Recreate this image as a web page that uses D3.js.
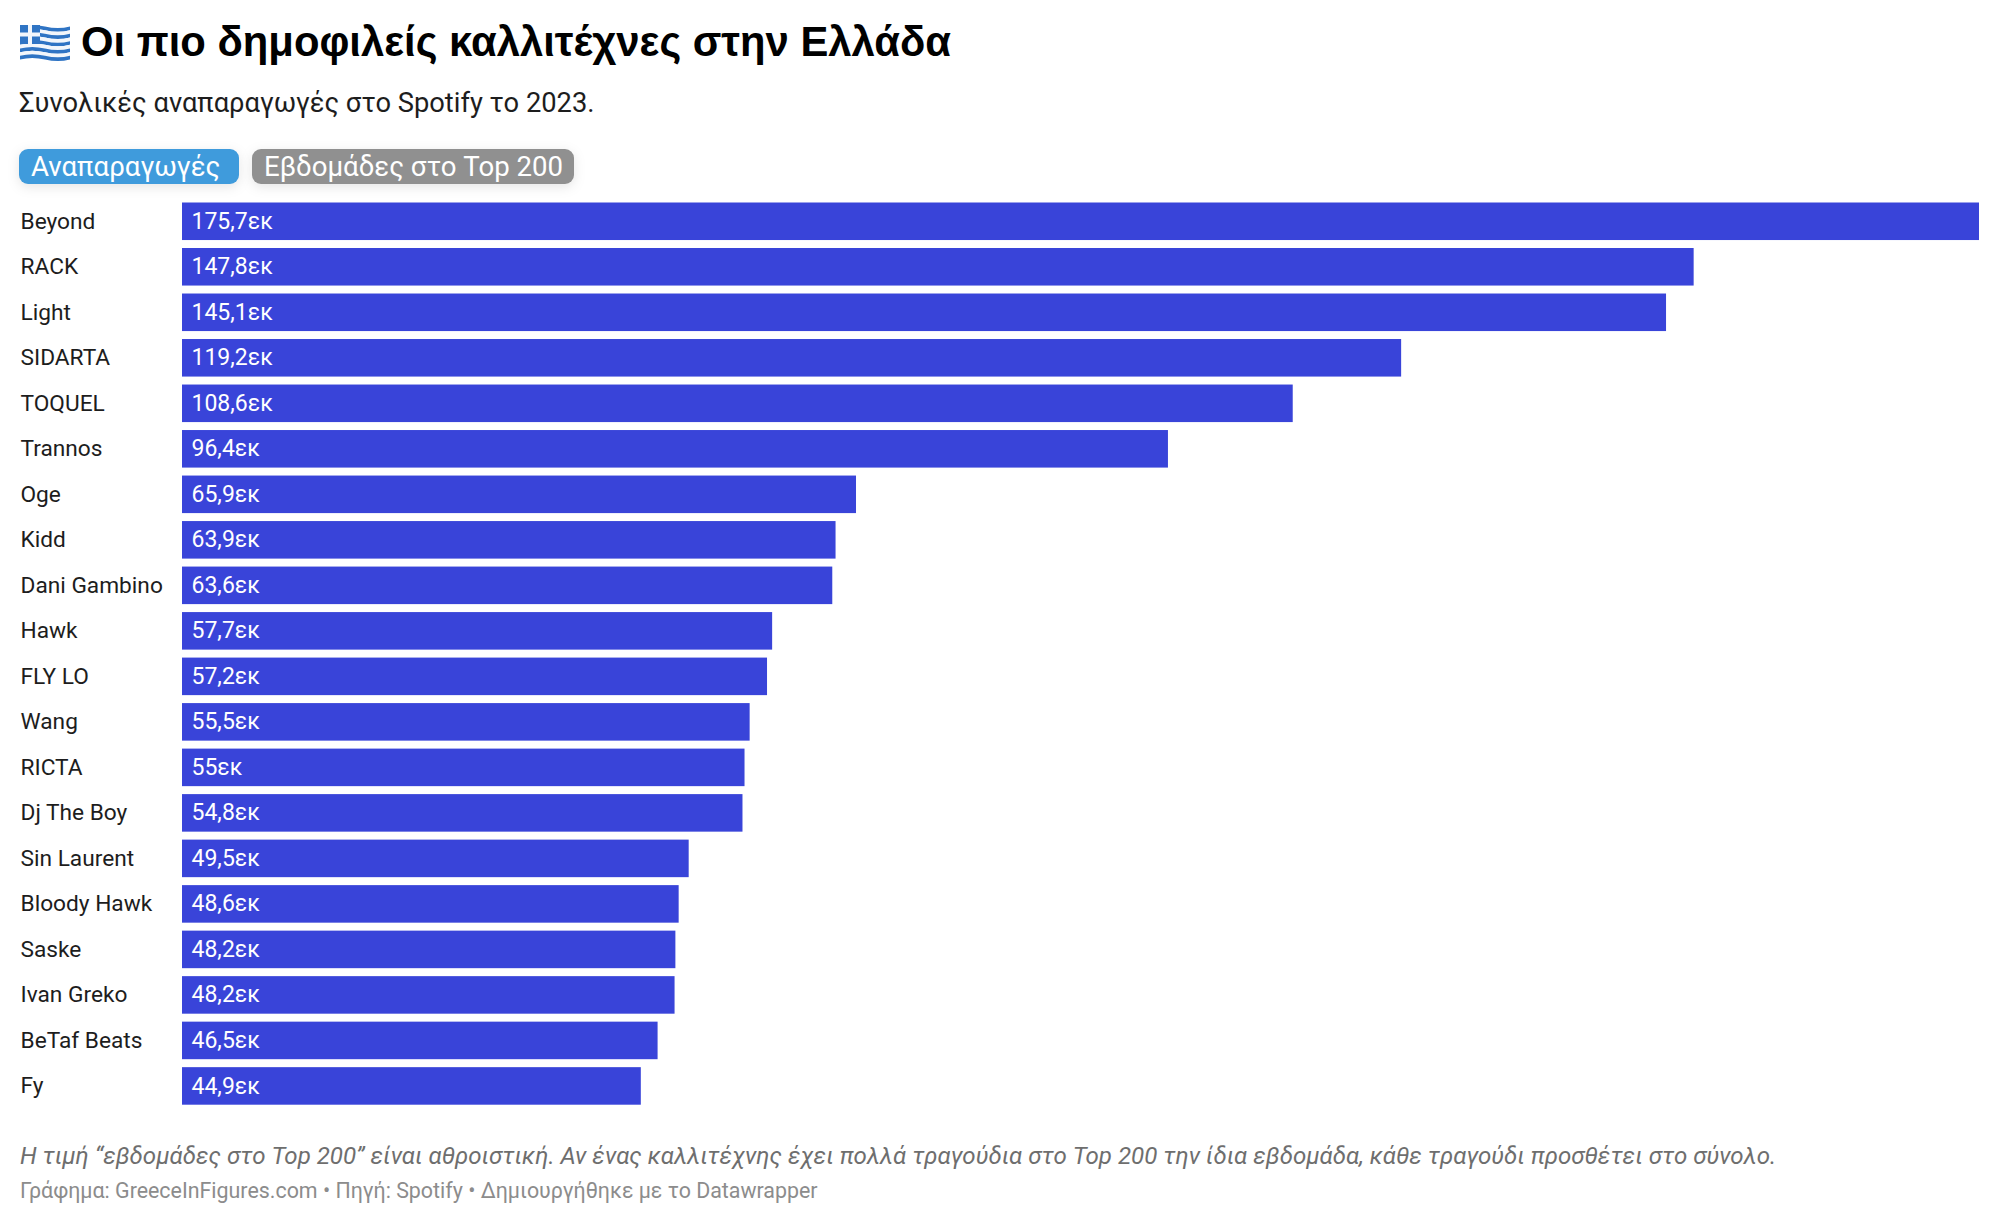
<!DOCTYPE html>
<html lang="el">
<head>
    <meta charset="UTF-8">
    <title>Οι πιο δημοφιλείς καλλιτέχνες στην Ελλάδα</title>
    <style>
        html, body { margin: 0; padding: 0; background: #ffffff; }
        svg { display: block; font-family: Roboto, sans-serif; }
        .artist { font-size: 22.7px; fill: #1d1d1d; }
        .value { font-size: 23px; fill: #ffffff; }
        .btn { filter: drop-shadow(0 3px 6px rgba(0,0,0,0.1)); }
    </style>
</head>
<body>
    <script src="https://d3js.org/d3.v7.min.js"></script>
    <script>
        var width = 2000;
        var height = 1222;

        // streams in millions
        var artists = ["Beyond", "RACK", "Light", "SIDARTA", "TOQUEL", "Trannos", "Oge", "Kidd", "Dani Gambino", "Hawk",
            "FLY LO", "Wang", "RICTA", "Dj The Boy", "Sin Laurent", "Bloody Hawk", "Saske", "Ivan Greko", "BeTaf Beats", "Fy"];
        var streams = [175.7, 147.8, 145.1, 119.2, 108.6, 96.4, 65.9, 63.9, 63.58, 57.7,
            57.2, 55.5, 55, 54.8, 49.54, 48.56, 48.24, 48.16, 46.5, 44.86];

        var titleText = "Οι πιο δημοφιλείς καλλιτέχνες στην Ελλάδα";
        var subtitleText = "Συνολικές αναπαραγωγές στο Spotify το 2023.";
        var buttons = ["Αναπαραγωγές", "Εβδομάδες στο Top 200"];
        var noteText = "Η τιμή “εβδομάδες στο Top 200” είναι αθροιστική. Αν ένας καλλιτέχνης έχει πολλά τραγούδια στο Top 200 την ίδια εβδομάδα, κάθε τραγούδι προσθέτει στο σύνολο.";
        var sourceText = "Γράφημα: GreeceInFigures.com • Πηγή: Spotify • Δημιουργήθηκε με το Datawrapper";

        var svg = d3.select("body").append("svg")
            .attr("width", width)
            .attr("height", height);

        var x = d3.scaleLinear().domain([0, 175.7]).range([182, 1979]);
        var y = d3.scaleBand().domain(artists).range([202.5, 1104.7]).paddingInner(0.175).paddingOuter(0);

        function valueLabel(d) {
            return String(+d.toFixed(1)).replace(".", ",") + "εκ";
        }

        // flag, the emoji font isn't available
        var flag = svg.append("g").attr("transform", "translate(20,25)");
        var stripeH = 33 / 9;
        d3.range(9).forEach(function(i) {
            flag.append("path")
                .attr("d", "M0 " + (i * stripeH + 1.5) + "q12 -3 25 0t25 0v" + stripeH + "q-12 3 -25 0t-25 0z")
                .attr("fill", i % 2 ? "#f2f6fb" : "#2f74c4");
        });
        flag.append("rect").attr("x", 0).attr("y", 0).attr("width", 20).attr("height", 19).attr("fill", "#2f74c4");
        flag.append("rect").attr("x", 8).attr("y", 0).attr("width", 4).attr("height", 19).attr("fill", "#f2f6fb");
        flag.append("rect").attr("x", 0).attr("y", 7.5).attr("width", 20).attr("height", 4).attr("fill", "#f2f6fb");

        svg.append("text").attr("x", 81).attr("y", 56)
            .style("font-family", "'Liberation Sans', sans-serif")
            .style("font-size", "41.8px").style("font-weight", 700).attr("fill", "#000000")
            .text(titleText);
        svg.append("text").attr("x", 19).attr("y", 112)
            .style("font-size", "27.3px").attr("fill", "#1d1d1d")
            .text(subtitleText);

        // toggle buttons
        var btnX = [19, 252];
        var btnW = [220, 322];
        var btnFill = ["#3f9bdc", "#909090"];
        buttons.forEach(function(b, i) {
            svg.append("rect").attr("class", "btn").attr("x", btnX[i]).attr("y", 149).attr("width", btnW[i]).attr("height", 35)
                .attr("rx", 9).attr("fill", btnFill[i]);
            svg.append("text").attr("x", btnX[i] + 12).attr("y", 176)
                .attr("fill", "#ffffff")
                .style("font-size", "27.6px")
                .text(b);
        });

        var rows = svg.selectAll(".row")
            .data(artists)
            .enter().append("g")
            .attr("class", "row")
            .attr("transform", function(d) { return "translate(0," + y(d) + ")"; });

        rows.append("rect")
            .attr("x", x(0))
            .attr("width", function(d, i) { return x(streams[i]) - x(0); })
            .attr("height", y.bandwidth())
            .attr("fill", "#3944d9");

        rows.append("text")
            .attr("class", "artist")
            .attr("x", 20.5)
            .attr("y", y.bandwidth() / 2)
            .attr("dy", "0.33em")
            .text(function(d) { return d; });

        rows.append("text")
            .attr("class", "value")
            .attr("x", x(0) + 9.5)
            .attr("y", y.bandwidth() / 2)
            .attr("dy", "0.33em")
            .text(function(d, i) { return valueLabel(streams[i]); });

        svg.append("text").attr("x", 20).attr("y", 1164)
            .style("font-size", "24.1px").style("font-style", "italic").attr("fill", "#6e6e6e")
            .text(noteText);
        svg.append("text").attr("x", 20).attr("y", 1198)
            .style("font-size", "21.4px").attr("fill", "#8c8c8c")
            .text(sourceText);
    </script>
</body>
</html>
